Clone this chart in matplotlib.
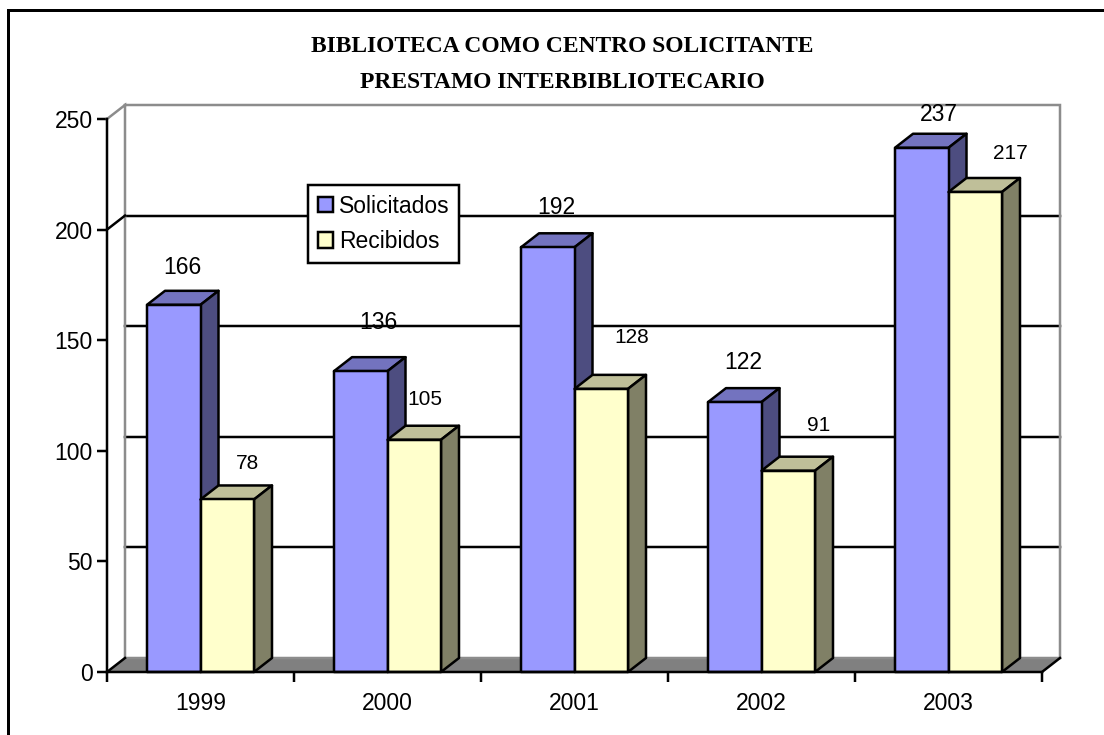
import matplotlib
matplotlib.use("Agg")
import matplotlib.pyplot as plt
from matplotlib.lines import Line2D
from matplotlib.patches import Patch, Polygon

# Data
YEARS = ["1999", "2000", "2001", "2002", "2003"]
SOLICITADOS = [166, 136, 192, 122, 237]
RECIBIDOS = [78, 105, 128, 91, 217]
Y_TICKS = [0, 50, 100, 150, 200, 250]

# Label nudges in pixels, the original labels were placed by hand
SOL_OFFSETS = [(9, 37), (18, 49), (9, 40), (8, 40), (17, 33)]
REC_OFFSETS = [(20, 36), (11, 40), (30, 51), (30, 45), (35, 38)]

# Chart style
BLUE = "#9999FF"
BLUE_TOP = "#7373BF"
BLUE_SIDE = "#4D4D80"
YELLOW = "#FFFFCC"
YELLOW_TOP = "#BFBF99"
YELLOW_SIDE = "#808066"
FLOOR = "#808080"
WALL = "#8C8C8C"
PX = 72 / 100  # one pixel in points
LW = 2.5 * PX

# 3D depth of the plot box, in data units
DEPTH_X = 18 / 187
DEPTH_Y = 14 / 2.212
BAR_START = 40 / 187
BAR_W = 53.5 / 187

plt.rcParams["font.family"] = ["Liberation Sans", "DejaVu Sans"]

fig = plt.figure(figsize=(11.04, 7.35), dpi=100, facecolor="white")
ax = fig.add_axes([107 / 1104, 1 - 672 / 735, 935 / 1104, 553 / 735])
ax.set_xlim(0, 5)
ax.set_ylim(0, 250)
ax.patch.set_visible(False)


def draw_bar(x, value, front, top, side, z):
    kw = dict(edgecolor="black", linewidth=LW, joinstyle="round", clip_on=False, zorder=z)
    ax.add_patch(Polygon([(x, value), (x + DEPTH_X, value + DEPTH_Y),
                          (x + BAR_W + DEPTH_X, value + DEPTH_Y), (x + BAR_W, value)],
                         facecolor=top, **kw))
    ax.add_patch(Polygon([(x + BAR_W, 0), (x + BAR_W + DEPTH_X, DEPTH_Y),
                          (x + BAR_W + DEPTH_X, value + DEPTH_Y), (x + BAR_W, value)],
                         facecolor=side, **kw))
    ax.add_patch(Polygon([(x, 0), (x + BAR_W, 0), (x + BAR_W, value), (x, value)],
                         facecolor=front, **kw))


# Floor and back wall
ax.add_patch(Polygon([(0, 0), (5, 0), (5 + DEPTH_X, DEPTH_Y), (DEPTH_X, DEPTH_Y)],
                     facecolor=FLOOR, edgecolor="none", clip_on=False, zorder=1))
for v in Y_TICKS[1:-1]:
    ax.plot([DEPTH_X, 5 + DEPTH_X], [v + DEPTH_Y, v + DEPTH_Y], color="black", lw=LW,
            clip_on=False, zorder=2)
ax.plot([0, DEPTH_X, DEPTH_X, 5 + DEPTH_X, 5 + DEPTH_X, DEPTH_X],
        [250, 250 + DEPTH_Y, DEPTH_Y, DEPTH_Y, 250 + DEPTH_Y, 250 + DEPTH_Y],
        color=WALL, lw=LW, clip_on=False, zorder=2, solid_joinstyle="miter")
# Small slants joining the front axis to the wall
for v in [0, 200]:
    ax.plot([0, DEPTH_X], [v, v + DEPTH_Y], color="black", lw=LW, clip_on=False, zorder=3)
ax.plot([5, 5 + DEPTH_X], [0, DEPTH_Y], color="black", lw=LW, clip_on=False, zorder=3)

# Bars, painted left to right so the yellow top covers the blue side
for i in range(len(YEARS)):
    draw_bar(i + BAR_START, SOLICITADOS[i], BLUE, BLUE_TOP, BLUE_SIDE, 4 + i * 2)
    draw_bar(i + BAR_START + BAR_W, RECIBIDOS[i], YELLOW, YELLOW_TOP, YELLOW_SIDE, 5 + i * 2)
    ax.annotate(str(SOLICITADOS[i]), (i + BAR_START + BAR_W / 2, SOLICITADOS[i]),
                xytext=SOL_OFFSETS[i], textcoords="offset pixels", ha="center", va="center",
                fontsize=16.5, color="black", zorder=30, annotation_clip=False)
    ax.annotate(str(RECIBIDOS[i]), (i + BAR_START + BAR_W * 1.5, RECIBIDOS[i]),
                xytext=REC_OFFSETS[i], textcoords="offset pixels", ha="center", va="center",
                fontsize=15, color="black", zorder=30, annotation_clip=False)

# Axes
for name in ("top", "right"):
    ax.spines[name].set_visible(False)
for name in ("left", "bottom"):
    ax.spines[name].set_linewidth(LW)
    ax.spines[name].set_zorder(25)
ax.set_yticks(Y_TICKS)
ax.set_xticks(range(6))
ax.set_xticklabels([])
ax.set_xticks([i + 0.5 for i in range(5)], minor=True)
ax.set_xticklabels(YEARS, minor=True)
ax.tick_params(axis="x", which="major", length=10 * PX, width=LW, direction="out")
ax.tick_params(axis="x", which="minor", length=0, labelsize=16.5, pad=20 * PX)
ax.tick_params(axis="y", length=10 * PX, width=LW, direction="out", labelsize=16.5, pad=4 * PX)

# Legend
handles = [Patch(facecolor=BLUE, edgecolor="black", linewidth=LW, label="Solicitados"),
           Patch(facecolor=YELLOW, edgecolor="black", linewidth=LW, label="Recibidos")]
leg = ax.legend(handles=handles, loc="upper left", bbox_to_anchor=(308 / 1104, 1 - 185 / 735),
                bbox_transform=fig.transFigure, borderaxespad=0, fontsize=16.5, fancybox=False,
                framealpha=1, edgecolor="black", handlelength=0.68, handleheight=0.68,
                handletextpad=0.24, labelspacing=0.55, borderpad=0.42)
leg.get_frame().set_linewidth(LW)
leg.set_zorder(40)

# Title
fig.text(562 / 1104, 1 - 46 / 735, "BIBLIOTECA COMO CENTRO SOLICITANTE", family="Liberation Serif",
         fontweight="bold", fontsize=16.9, ha="center", va="center")
fig.text(562 / 1104, 1 - 82 / 735, "PRESTAMO INTERBIBLIOTECARIO", family="Liberation Serif",
         fontweight="bold", fontsize=16.9, ha="center", va="center")

# Frame of the chart: only the left and top edges fall inside the picture
fig.add_artist(Line2D([8 / 1104, 8 / 1104, 1], [0, 1 - 9.5 / 735, 1 - 9.5 / 735], color="black",
                      linewidth=3 * PX, solid_joinstyle="miter"))

fig.savefig("out.png", dpi=100)
plt.close(fig)
